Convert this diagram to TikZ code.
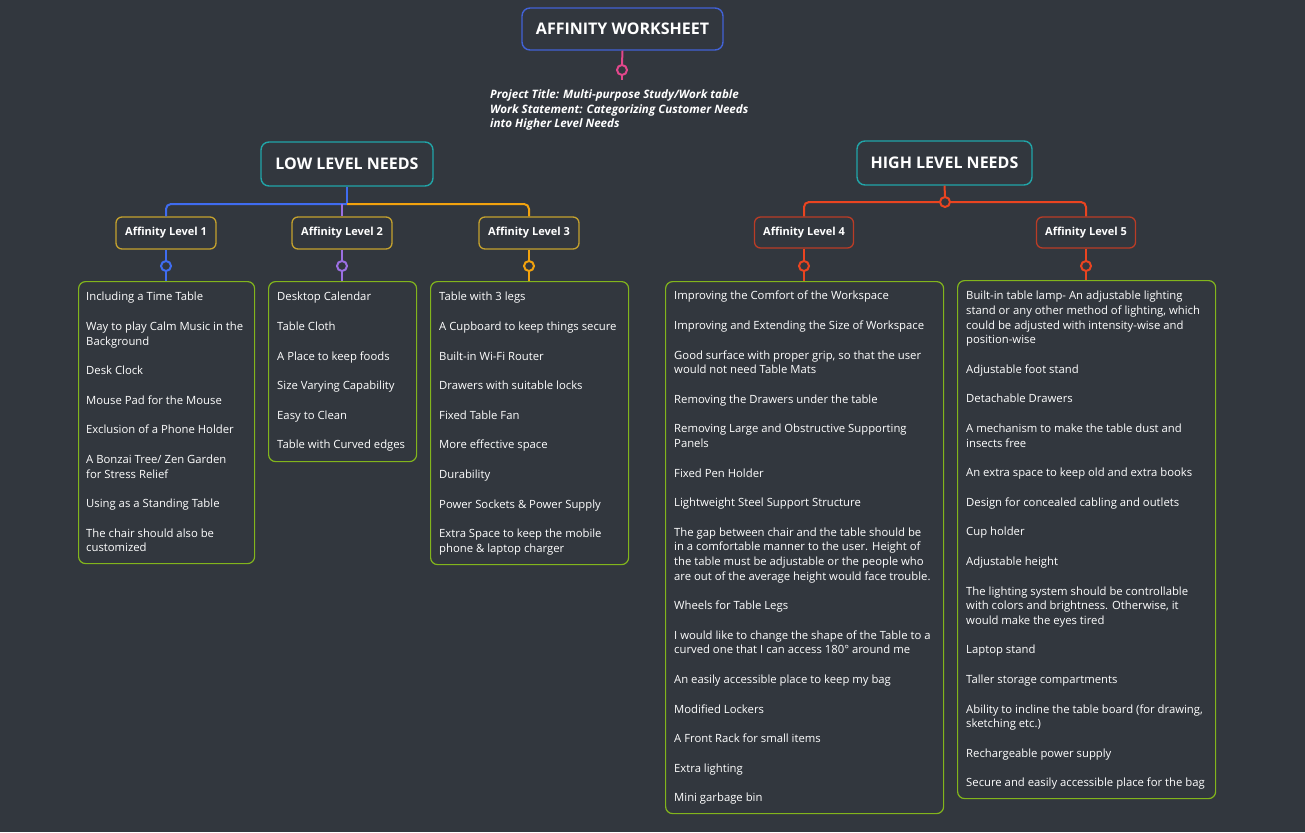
\documentclass[tikz,border=0pt]{standalone}
\usepackage{fontspec}
\setmainfont{Open Sans}
\definecolor{bg}{HTML}{32373E}
\definecolor{rootblue}{HTML}{4262D6}
\definecolor{pinkc}{HTML}{E2478C}
\definecolor{tealc}{HTML}{21A5A8}
\definecolor{bluec}{HTML}{3F6CF0}
\definecolor{purplec}{HTML}{9B6FE2}
\definecolor{orangec}{HTML}{F2A20E}
\definecolor{goldc}{HTML}{C4A22E}
\definecolor{redc}{HTML}{EA4420}
\definecolor{darkredc}{HTML}{BA3C26}
\definecolor{greenc}{HTML}{82B51C}
\tikzset{
  bigbox/.style={draw, line width=1.4pt, rounded corners=8pt, fill=bg, text=white,
    font=\fontsize{16}{19}\selectfont\bfseries, inner sep=0pt},
  lvlbox/.style={draw=goldc, line width=1.3pt, rounded corners=6pt, fill=bg, text=white,
    font=\fontsize{11}{13}\selectfont\bfseries, inner sep=0pt,
    minimum width=100pt, minimum height=32pt},
  hlvlbox/.style={lvlbox, draw=darkredc, minimum width=99pt, minimum height=31pt},
  grnbox/.style={draw=greenc, line width=1.2pt, rounded corners=7pt, anchor=north west, inner sep=0pt},
  items/.style={anchor=north west, align=left, inner sep=0pt, text=white,
    font=\fontsize{11.3}{14.6}\selectfont},
  conn/.style={line width=2pt},
  knob/.style={circle, draw, line width=2pt, fill=bg, minimum size=10pt, inner sep=0pt},
}
\begin{document}
\begin{tikzpicture}[x=1pt,y=-1pt]
\useasboundingbox[fill=bg] (0,0) rectangle (1305,832);

% root
\node[bigbox, draw=rootblue, minimum width=201pt, minimum height=42pt] (root) at (622.5,29) {AFFINITY WORKSHEET};
\node[knob, draw=pinkc] (pk) at (622,70) {};
\coordinate (pe) at (622,80);
\draw[conn, pinkc] (root.south) -- (pk.north);
\draw[conn, pinkc] (pk.south) -- (pe);
\node[anchor=north west, align=left, inner sep=0pt, text=white,
  font=\fontsize{11.6}{14.5}\selectfont\bfseries\itshape] (note) at (490,88.5)
  {\strut Project Title: Multi-purpose Study/Work table\\Work Statement: Categorizing Customer Needs\\into Higher Level Needs};

% main categories
\node[bigbox, draw=tealc, minimum width=172pt, minimum height=44pt] (low) at (347,164) {LOW LEVEL NEEDS};
\node[bigbox, draw=tealc, minimum width=175pt, minimum height=44pt] (high) at (944.5,163) {HIGH LEVEL NEEDS};

% affinity levels
\node[lvlbox] (a1) at (166,233) {Affinity Level 1};
\node[lvlbox] (a2) at (342,233) {Affinity Level 2};
\node[lvlbox] (a3) at (529,233) {Affinity Level 3};
\node[hlvlbox] (a4) at (804,232.5) {Affinity Level 4};
\node[hlvlbox] (a5) at (1086,232.5) {Affinity Level 5};

% low connectors
\coordinate (lj) at (347,204);
\coordinate (pj) at (342,204);
\draw[conn, bluec] (low.south) -- (lj);
\draw[conn, bluec, rounded corners=5pt] (lj) -| (a1.north);
\draw[conn, orangec, rounded corners=5pt] (lj) -| (a3.north);
\draw[conn, purplec] (pj) -- (a2.north);

% high connectors
\node[knob, draw=redc] (hk) at (945,202) {};
\draw[conn, redc] (high.south) -- (hk.north);
\draw[conn, redc, rounded corners=5pt] (hk.west) -| (a4.north);
\draw[conn, redc, rounded corners=5pt] (hk.east) -| (a5.north);

% green boxes
\node[grnbox, minimum width=176pt, minimum height=282pt] (g1) at (78,281) {};
\node[grnbox, minimum width=148pt, minimum height=180pt] (g2) at (268,281) {};
\node[grnbox, minimum width=198pt, minimum height=283pt] (g3) at (430,281) {};
\node[grnbox, minimum width=278pt, minimum height=532pt] (g4) at (665,281) {};
\node[grnbox, minimum width=258pt, minimum height=518pt] (g5) at (957,280) {};

% knobs under levels
\node[knob, draw=bluec] (k1) at (166,266) {};
\node[knob, draw=purplec] (k2) at (342,266) {};
\node[knob, draw=orangec] (k3) at (529,266) {};
\node[knob, draw=redc] (k4) at (804,266) {};
\node[knob, draw=redc] (k5) at (1086,266) {};
\draw[conn, bluec] (a1.south) -- (k1.north);
\draw[conn, bluec] (k1.south) -- (g1.north -| k1);
\draw[conn, purplec] (a2.south) -- (k2.north);
\draw[conn, purplec] (k2.south) -- (g2.north -| k2);
\draw[conn, orangec] (a3.south) -- (k3.north);
\draw[conn, orangec] (k3.south) -- (g3.north -| k3);
\draw[conn, redc] (a4.south) -- (k4.north);
\draw[conn, redc] (k4.south) -- (g4.north -| k4);
\draw[conn, redc] (a5.south) -- (k5.north);
\draw[conn, redc] (k5.south) -- (g5.north -| k5);

% items
\node[items] (t1) at (86,290.5) {\strut Including a Time Table\\[15pt]
Way to play Calm Music in the\\Background\\[15pt]
Desk Clock\\[15pt]
Mouse Pad for the Mouse\\[15pt]
Exclusion of a Phone Holder\\[15pt]
A Bonzai Tree/ Zen Garden\\for Stress Relief\\[15pt]
Using as a Standing Table\\[15pt]
The chair should also be\\customized};

\node[items] (t2) at (277,290.5) {\strut Desktop Calendar\\[15pt]
Table Cloth\\[15pt]
A Place to keep foods\\[15pt]
Size Varying Capability\\[15pt]
Easy to Clean\\[15pt]
Table with Curved edges};

\node[items] (t3) at (439,290.5) {\strut Table with 3 legs\\[15pt]
A Cupboard to keep things secure\\[15pt]
Built-in Wi-Fi Router\\[15pt]
Drawers with suitable locks\\[15pt]
Fixed Table Fan\\[15pt]
More effective space\\[15pt]
Durability\\[15pt]
Power Sockets \& Power Supply\\[15pt]
Extra Space to keep the mobile\\phone \& laptop charger};

\node[items] (t4) at (674,289.5) {\strut Improving the Comfort of the Workspace\\[15pt]
Improving and Extending the Size of Workspace\\[15pt]
Good surface with proper grip, so that the user\\would not need Table Mats\\[15pt]
Removing the Drawers under the table\\[15pt]
Removing Large and Obstructive Supporting\\Panels\\[15pt]
Fixed Pen Holder\\[15pt]
Lightweight Steel Support Structure\\[15pt]
The gap between chair and the table should be\\in a comfortable manner to the user. Height of\\the table must be adjustable or the people who\\are out of the average height would face trouble.\\[15pt]
Wheels for Table Legs\\[15pt]
I would like to change the shape of the Table to a\\curved one that I can access 180° around me\\[15pt]
An easily accessible place to keep my bag\\[15pt]
Modified Lockers\\[15pt]
A Front Rack for small items\\[15pt]
Extra lighting\\[15pt]
Mini garbage bin};

\node[items] (t5) at (966,289.5) {\strut Built-in table lamp- An adjustable lighting\\stand or any other method of lighting, which\\could be adjusted with intensity-wise and\\position-wise\\[15pt]
Adjustable foot stand\\[15pt]
Detachable Drawers\\[15pt]
A mechanism to make the table dust and\\insects free\\[15pt]
An extra space to keep old and extra books\\[15pt]
Design for concealed cabling and outlets\\[15pt]
Cup holder\\[15pt]
Adjustable height\\[15pt]
The lighting system should be controllable\\with colors and brightness. Otherwise, it\\would make the eyes tired\\[15pt]
Laptop stand\\[15pt]
Taller storage compartments\\[15pt]
Ability to incline the table board (for drawing,\\sketching etc.)\\[15pt]
Rechargeable power supply\\[15pt]
Secure and easily accessible place for the bag};
\end{tikzpicture}
\end{document}
